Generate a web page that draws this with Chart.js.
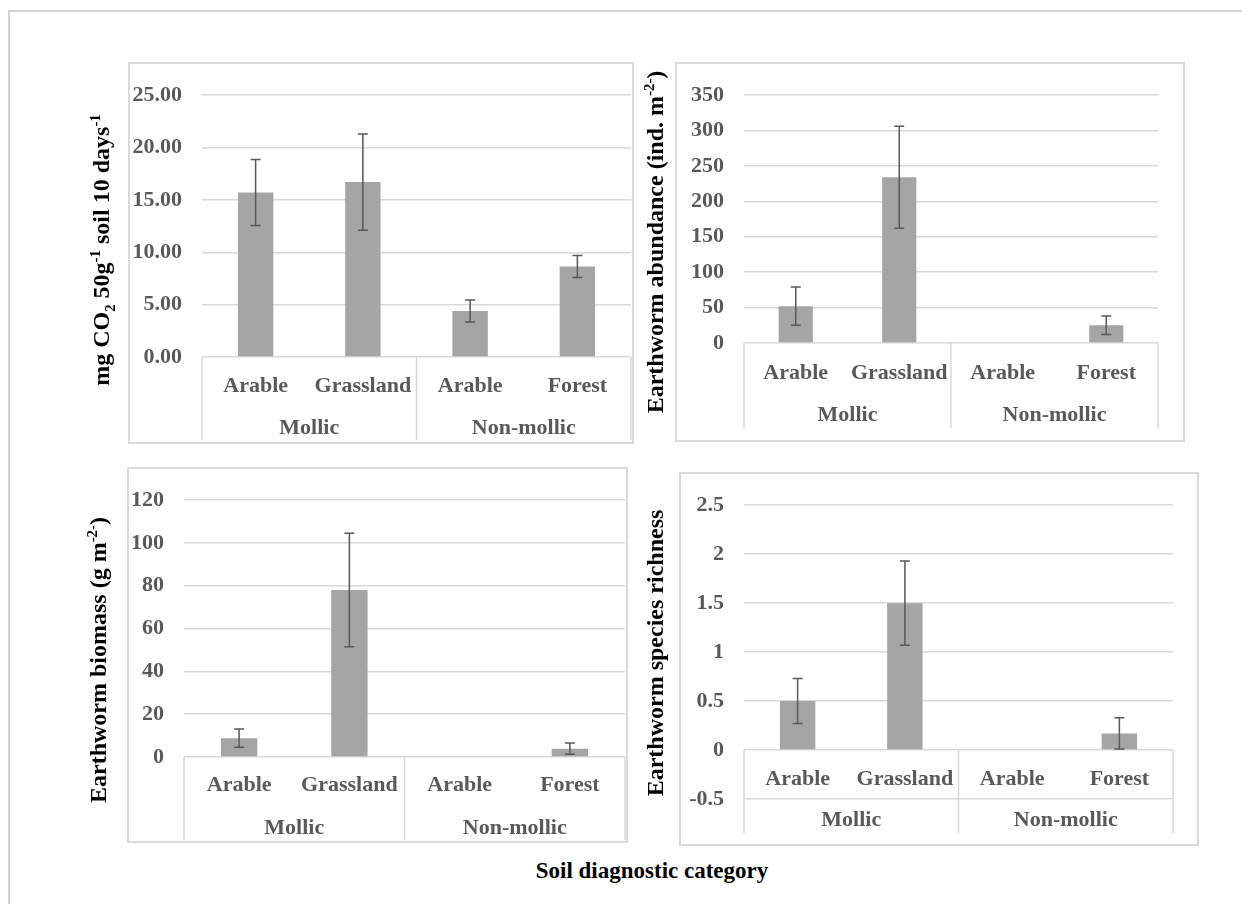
<!DOCTYPE html>
<html>
<head>
<meta charset="utf-8">
<title>Soil diagnostic category</title>
<script src="https://cdn.jsdelivr.net/npm/chart.js@4.4.0/dist/chart.umd.min.js"></script>
<style>
    html, body { margin: 0; padding: 0; background: #fff; }
    body {
        width: 1242px; height: 904px; position: relative; overflow: hidden;
        font-family: "Liberation Serif", "Times New Roman", serif;
    }
    .frame {
        position: absolute; left: 8px; top: 10px; width: 1400px; height: 1000px;
        border-left: 2px solid #d4d4d4; border-top: 2px solid #d4d4d4;
    }
    .panel { position: absolute; }
    .panel canvas { position: absolute; left: 0; top: 0; }
    .panel .box {
        position: absolute; left: 0; top: 0; right: 0; bottom: 0;
        box-sizing: border-box; border: 2px solid #dadada; pointer-events: none;
    }
    .ytitle {
        position: absolute; white-space: nowrap; font-weight: bold; font-size: 24px;
        color: #000; line-height: 1; transform: translate(-50%, -50%) rotate(-90deg);
    }
    .ytitle sup, .ytitle sub { font-size: 0.62em; line-height: 0; }
    .xtitle {
        position: absolute; white-space: nowrap; font-weight: bold; font-size: 23px;
        color: #000; line-height: 1; transform: translate(-50%, -50%);
    }
</style>
</head>
<body>
<div class="frame"></div>

<div class="panel" style="left:128px; top:62px; width:506px; height:382px;">
    <canvas id="co2Chart" width="506" height="382"></canvas><div class="box"></div>
</div>
<div class="panel" style="left:675px; top:62px; width:510px; height:380px;">
    <canvas id="abundanceChart" width="510" height="380"></canvas><div class="box"></div>
</div>
<div class="panel" style="left:127px; top:467px; width:501px; height:376px;">
    <canvas id="biomassChart" width="501" height="376"></canvas><div class="box"></div>
</div>
<div class="panel" style="left:679px; top:472px; width:520px; height:374px;">
    <canvas id="richnessChart" width="520" height="374"></canvas><div class="box"></div>
</div>

<div class="ytitle" style="left:101px; top:250px;">mg CO<sub>2</sub> 50g<sup>-1</sup> soil 10 days<sup>-1</sup></div>
<div class="ytitle" style="left:655px; top:242px;">Earthworm abundance (ind. m<sup>-2-</sup>)</div>
<div class="ytitle" style="left:98px; top:660px;">Earthworm biomass (g m<sup>-2-</sup>)</div>
<div class="ytitle" style="left:655px; top:653px;">Earthworm species richness</div>
<div class="xtitle" style="left:652px; top:870px;">Soil diagnostic category</div>

<script>
// Categories (two-level axis)
const categories = ['Arable', 'Grassland', 'Arable', 'Forest'];
const soilGroups = ['Mollic', 'Non-mollic'];

// Soil respiration (mg CO2 50g-1 soil 10 days-1)
const co2Values = [15.7, 16.7, 4.4, 8.65];
const co2Errors = [3.15, 4.6, 1.05, 1.05];
const co2Range = [0, 25, 5];

// Earthworm abundance (ind. m-2)
const abundanceValues = [52, 234, 0, 25];
const abundanceErrors = [27, 72, 0, 13];
const abundanceRange = [0, 350, 50];

// Earthworm biomass (g m-2)
const biomassValues = [8.8, 78, 0, 3.9];
const biomassErrors = [4.3, 26.5, 0, 2.6];
const biomassRange = [0, 120, 20];

// Earthworm species richness
const richnessValues = [0.5, 1.5, 0, 0.17];
const richnessErrors = [0.23, 0.43, 0, 0.16];
const richnessRange = [-0.5, 2.5, 0.5];

const tickFont = { family: 'Liberation Serif', size: 22, weight: 'bold' };
const tickColor = '#595959';
const lineColor = '#d9d9d9';

// Draws the +/- error whiskers on top of each bar
const errorBarPlugin = {
    id: 'errorBars',
    afterDatasetsDraw(chart, args, opts) {
        const errors = opts.errors || [];
        const values = chart.data.datasets[0].data;
        const meta = chart.getDatasetMeta(0);
        const yScale = chart.scales.y;
        const ctx = chart.ctx;
        ctx.save();
        ctx.strokeStyle = '#595959';
        ctx.lineWidth = 1.5;
        meta.data.forEach((bar, i) => {
            const err = errors[i];
            if (!err) return;
            const x = bar.x;
            const top = yScale.getPixelForValue(values[i] + err);
            const bottom = yScale.getPixelForValue(values[i] - err);
            ctx.beginPath();
            ctx.moveTo(x, top);
            ctx.lineTo(x, bottom);
            ctx.moveTo(x - 5, top);
            ctx.lineTo(x + 5, top);
            ctx.moveTo(x - 5, bottom);
            ctx.lineTo(x + 5, bottom);
            ctx.stroke();
        });
        ctx.restore();
    }
};

// Vertical separators of the grouped category axis (Excel style)
const categoryBoxPlugin = {
    id: 'categoryBox',
    afterDraw(chart, args, opts) {
        const xScale = chart.scales.x;
        const top = chart.scales.y.getPixelForValue(0);
        const bottom = chart.height - (opts.gap || 4);
        const mid = (xScale.getPixelForValue(1) + xScale.getPixelForValue(2)) / 2;
        const ctx = chart.ctx;
        ctx.save();
        ctx.strokeStyle = lineColor;
        ctx.lineWidth = 1.5;
        [chart.chartArea.left, mid, chart.chartArea.right].forEach(px => {
            ctx.beginPath();
            ctx.moveTo(px, top);
            ctx.lineTo(px, bottom);
            ctx.stroke();
        });
        ctx.restore();
    }
};

function buildPanel(canvasId, values, errors, range, cfg) {
    const canvas = document.getElementById(canvasId);
    return new Chart(canvas, {
        type: 'bar',
        data: {
            labels: categories,
            datasets: [{
                data: values,
                xAxisID: 'x',
                backgroundColor: '#a5a5a5',
                borderWidth: 0,
                barPercentage: 0.33,
                categoryPercentage: 1
            }]
        },
        options: {
            responsive: false,
            animation: false,
            events: [],
            layout: { padding: { top: cfg.padTop, right: cfg.padRight, left: 0, bottom: 0 } },
            plugins: {
                legend: { display: false },
                tooltip: { enabled: false },
                errorBars: { errors: errors },
                categoryBox: { gap: cfg.lineGap }
            },
            scales: {
                x: {
                    type: 'category',
                    position: cfg.crossAtZero ? { y: 0 } : 'bottom',
                    weight: 0,
                    grid: { display: false, drawTicks: false },
                    border: { display: false },
                    ticks: { font: tickFont, color: tickColor, padding: cfg.catPad, autoSkip: false, maxRotation: 0 },
                    afterFit: scale => { scale.height = cfg.catHeight; }
                },
                x2: {
                    type: 'category',
                    labels: soilGroups,
                    position: 'bottom',
                    weight: 1,
                    offset: true,
                    grid: { display: false, drawTicks: false },
                    border: { display: false },
                    ticks: { font: tickFont, color: tickColor, padding: cfg.groupPad, autoSkip: false, maxRotation: 0 },
                    afterFit: scale => { scale.height = cfg.groupHeight; }
                },
                y: {
                    min: range[0],
                    max: range[1],
                    grid: { color: lineColor, lineWidth: 1.5, drawTicks: false },
                    border: { display: false },
                    ticks: {
                        stepSize: range[2],
                        padding: 20,
                        font: tickFont,
                        color: tickColor,
                        callback: cfg.format
                    },
                    afterFit: scale => { scale.width = cfg.axisWidth; }
                }
            }
        },
        plugins: [errorBarPlugin, categoryBoxPlugin]
    });
}

const plainNumber = v => String(+v.toFixed(2));

buildPanel('co2Chart', co2Values, co2Errors, co2Range, {
    padTop: 15, padRight: 3, axisWidth: 74,
    catHeight: 46, catPad: 16, groupHeight: 41, groupPad: 12, lineGap: 4,
    format: v => v.toFixed(2)
});
buildPanel('abundanceChart', abundanceValues, abundanceErrors, abundanceRange, {
    padTop: 26, padRight: 27, axisWidth: 69,
    catHeight: 47, catPad: 17, groupHeight: 52, groupPad: 12, lineGap: 14,
    format: plainNumber
});
buildPanel('biomassChart', biomassValues, biomassErrors, biomassRange, {
    padTop: 28, padRight: 3, axisWidth: 57,
    catHeight: 46, catPad: 15, groupHeight: 40, groupPad: 12, lineGap: 3,
    format: plainNumber
});
buildPanel('richnessChart', richnessValues, richnessErrors, richnessRange, {
    padTop: 25, padRight: 26, axisWidth: 65, crossAtZero: true,
    catHeight: 46, catPad: 16, groupHeight: 47, groupPad: 8, lineGap: 13,
    format: plainNumber
});
</script>
</body>
</html>
